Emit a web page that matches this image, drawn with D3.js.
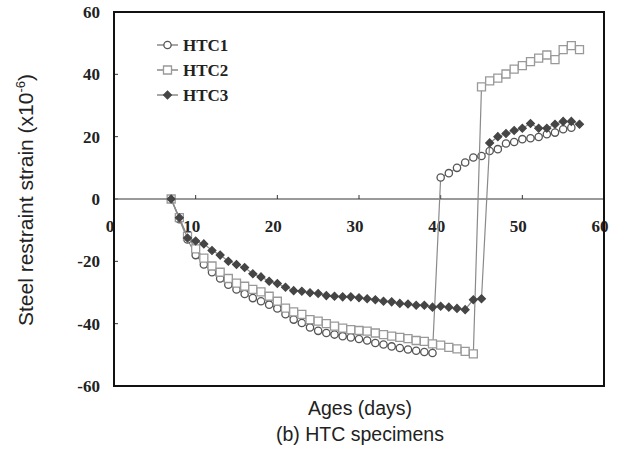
<!DOCTYPE html>
<html>
<head>
<meta charset="utf-8">
<script src="https://cdn.jsdelivr.net/npm/d3@7"></script>
<style>
    body { margin: 0; background: #fff; }
    #chart { width: 625px; height: 465px; }
    .tickLabel { font-family: "Liberation Serif", serif; font-weight: bold; font-size: 17px; fill: #222; }
    .legendText { font-family: "Liberation Serif", serif; font-weight: bold; font-size: 17px; fill: #222; }
    .axisTitle { font-family: "Liberation Sans", Arial, sans-serif; font-size: 19.5px; fill: #222; }
</style>
</head>
<body>
<div id="chart"></div>
<script>
// ages in days, shared by all three specimens
let days = [7, 8, 9, 10, 11, 12, 13, 14, 15, 16,
    17, 18, 19, 20, 21, 22, 23, 24, 25, 26,
    27, 28, 29, 30, 31, 32, 33, 34, 35, 36,
    37, 38, 39, 40, 41, 42, 43, 44, 45, 46,
    47, 48, 49, 50, 51, 52, 53, 54, 55, 56, 57];

// steel restraint strain (x10^-6), null = no reading
let htc1 = [0, -6.5, -13, -18, -21, -23.5, -25.5, -27.5, -29, -30.5,
    -31.8, -32.8, -33.9, -35.1, -37, -38.7, -39.8, -41.2, -42.3, -43,
    -43.5, -44, -44.4, -44.9, -45.4, -46.2, -46.7, -47.3, -47.8, -48.3,
    -48.7, -49.1, -49.4, 6.9, 8.3, 10, 11.7, 13.3, 13.8, 15.4,
    16, 17.8, 18.3, 19.2, 19.5, 19.9, 20.8, 21.3, 22.4, 22.9, null];

let htc2 = [0, -6, -12, -16, -19, -21.5, -23.5, -25.5, -27, -28,
    -29, -29.8, -31.2, -32.8, -35, -36.2, -37, -38.7, -39.2, -40,
    -40.8, -41.4, -41.9, -42.2, -42.4, -43, -43.5, -44, -44.4, -44.8,
    -45.4, -45.7, -46.5, -46.9, -47.6, -48.1, -48.9, -49.7, 36, 37.9,
    38.8, 40.1, 41.7, 42.8, 44.1, 45.2, 46.2, 44.7, 47.9, 49.2, 47.9];

let htc3 = [0, -6, -12.5, -13.5, -14.4, -16.5, -18, -20, -21, -22,
    -24, -25, -26.4, -27.1, -28.3, -29.4, -29.6, -30.1, -30.3, -31,
    -31.2, -31.4, -31.4, -31.7, -32, -32.3, -32.8, -33, -33.5, -33.7,
    -34.1, -34.1, -34.7, -34.4, -34.7, -35.1, -35.5, -32.3, -32, 18,
    20, 21, 22, 22.7, 24.2, 22.7, 22.7, 24, 24.9, 24.9, 24];

let seriesNames = ["HTC1", "HTC2", "HTC3"];
let xTicks = [0, 10, 20, 30, 40, 50, 60];
let yTicks = [-60, -40, -20, 0, 20, 40, 60];


class StrainChart {

    constructor(parentElement) {
        this.parentElement = parentElement;
        this.initVis();
    }

    initVis() {
        let vis = this;

        vis.margin = {top: 12, right: 21, bottom: 79, left: 114};
        vis.width = 625 - vis.margin.left - vis.margin.right;
        vis.height = 465 - vis.margin.top - vis.margin.bottom;

        vis.root = d3.select("#" + vis.parentElement).append("svg")
            .attr("width", 625)
            .attr("height", 465);

        vis.svg = vis.root.append("g")
            .attr("transform", "translate(" + vis.margin.left + "," + vis.margin.top + ")");

        vis.x = d3.scaleLinear().domain([0, 60]).range([0, vis.width]);
        vis.y = d3.scaleLinear().domain([-60, 60]).range([vis.height, 0]);

        // diamond = square turned 45 degrees
        vis.styles = [
            {name: seriesNames[0], values: htc1, shape: d3.symbolCircle, size: 42, rot: 0, fill: "#fff", stroke: "#555"},
            {name: seriesNames[1], values: htc2, shape: d3.symbolSquare, size: 64, rot: 0, fill: "#fff", stroke: "#999"},
            {name: seriesNames[2], values: htc3, shape: d3.symbolSquare, size: 30, rot: 45, fill: "#454545", stroke: "#454545"}
        ];

        vis.updateVis();
    }

    updateVis() {
        let vis = this;

        // y ticks on the left frame, pointing in
        vis.svg.selectAll(".yTick")
            .data(yTicks)
            .enter()
            .append("line")
            .attr("x1", 0)
            .attr("x2", 4)
            .attr("y1", d => vis.y(d))
            .attr("y2", d => vis.y(d))
            .attr("stroke", "#333");

        vis.svg.selectAll(".yLabel")
            .data(yTicks)
            .enter()
            .append("text")
            .attr("class", "tickLabel")
            .attr("x", -14)
            .attr("y", d => vis.y(d))
            .attr("dy", "0.35em")
            .style("text-anchor", "end")
            .text(d => d);

        // zero line with x ticks pointing up
        vis.svg.append("line")
            .attr("x1", 0)
            .attr("x2", vis.width)
            .attr("y1", vis.y(0))
            .attr("y2", vis.y(0))
            .attr("stroke", "#777")
            .attr("stroke-width", 1.5);

        vis.svg.selectAll(".xTick")
            .data(xTicks.slice(1, -1))
            .enter()
            .append("line")
            .attr("x1", d => vis.x(d))
            .attr("x2", d => vis.x(d))
            .attr("y1", vis.y(0))
            .attr("y2", vis.y(0) - 4)
            .attr("stroke", "#333");

        vis.svg.selectAll(".xLabel")
            .data(xTicks)
            .enter()
            .append("text")
            .attr("class", "tickLabel")
            .attr("x", d => vis.x(d) - 4)
            .attr("y", vis.y(0) + 33)
            .style("text-anchor", "middle")
            .text(d => d);

        // series: thin grey connecting lines, then markers
        let line = d3.line()
            .defined(d => d[1] !== null)
            .x(d => vis.x(d[0]))
            .y(d => vis.y(d[1]));

        vis.styles.forEach(function (s) {
            let pts = days.map((d, i) => [d, s.values[i]]);

            vis.svg.append("path")
                .datum(pts)
                .attr("d", line)
                .attr("fill", "none")
                .attr("stroke", "#8a8a8a")
                .attr("stroke-width", 1.2);

            vis.svg.selectAll(".pt-" + s.name)
                .data(pts.filter(d => d[1] !== null))
                .enter()
                .append("path")
                .attr("transform", d => "translate(" + vis.x(d[0]) + "," + vis.y(d[1]) + ") rotate(" + s.rot + ")")
                .attr("d", d3.symbol().type(s.shape).size(s.size))
                .attr("fill", s.fill)
                .attr("stroke", s.stroke)
                .attr("stroke-width", 1.3);
        });

        // legend
        let legend = vis.svg.selectAll(".legend")
            .data(vis.styles)
            .enter()
            .append("g")
            .attr("transform", (d, i) => "translate(" + 43 + "," + (33 + i * 25) + ")");

        legend.append("line")
            .attr("x1", 0)
            .attr("x2", 21)
            .attr("stroke", "#777")
            .attr("stroke-width", 1.3);

        legend.append("path")
            .attr("transform", d => "translate(10.5,0) rotate(" + d.rot + ")")
            .attr("d", d => d3.symbol().type(d.shape).size(d.size)())
            .attr("fill", d => d.fill)
            .attr("stroke", d => d.stroke)
            .attr("stroke-width", 1.3);

        legend.append("text")
            .attr("class", "legendText")
            .attr("x", 26)
            .attr("dy", "0.35em")
            .text(d => d.name);

        // plot frame
        vis.svg.append("rect")
            .attr("width", vis.width)
            .attr("height", vis.height)
            .attr("fill", "none")
            .attr("stroke", "#111")
            .attr("stroke-width", 2);

        // axis titles
        let yTitle = vis.root.append("text")
            .attr("class", "axisTitle")
            .attr("transform", "translate(33," + 200 + ") rotate(-90)")
            .style("text-anchor", "middle")
            .style("font-size", "21px");
        yTitle.append("tspan").text("Steel restraint strain (x10");
        yTitle.append("tspan").attr("dy", -8).style("font-size", "13px").text("-6");
        yTitle.append("tspan").attr("dy", 8).text(")");

        vis.root.append("text")
            .attr("class", "axisTitle")
            .attr("x", 360)
            .attr("y", 415)
            .style("text-anchor", "middle")
            .text("Ages (days)");

        vis.root.append("text")
            .attr("class", "axisTitle")
            .attr("x", 360)
            .attr("y", 441)
            .style("text-anchor", "middle")
            .text("(b) HTC specimens");
    }
}

new StrainChart("chart");
</script>
</body>
</html>
